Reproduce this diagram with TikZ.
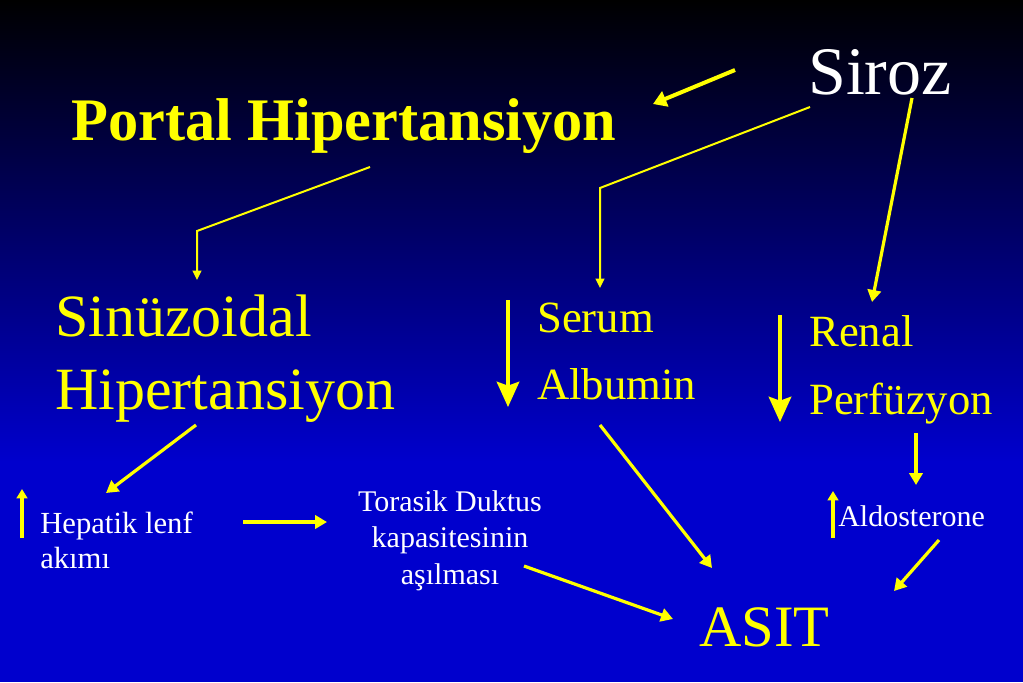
\documentclass[tikz,border=0pt]{standalone}
\usepackage{fontspec}
\setmainfont{Liberation Serif}
\usetikzlibrary{arrows.meta}
\definecolor{ylw}{RGB}{255,255,0}
\definecolor{bgblue}{RGB}{0,0,205}
\begin{document}
\begin{tikzpicture}[x=0.75pt,y=-0.75pt,
  txt/.style={anchor=base west,inner sep=0pt,text=ylw},
  wtxt/.style={anchor=base,inner sep=0pt,text=white},
  arr/.style={draw=ylw,line width=2.4pt,-{Triangle[length=9pt,width=10pt]}},
  thickarr/.style={draw=ylw,line width=3pt,-{Triangle[length=10pt,width=12pt]}},
  thinarr/.style={draw=ylw,line width=1.5pt,-{Triangle[length=7pt,width=6.5pt]}},
  downarr/.style={draw=ylw,line width=2.3pt,-{Stealth[length=19pt,width=17pt,inset=3pt]}},
  uparr/.style={draw=ylw,line width=2.7pt,-{Triangle[length=7pt,width=8pt]}}
]
\useasboundingbox (0,0) rectangle (1023,682);
\shade[top color=black,bottom color=bgblue] (0,0) rectangle (1023,462);
\fill[bgblue] (0,461) rectangle (1023,682);

% nodes
\node[wtxt,anchor=base west,font=\fontsize{51}{60}\selectfont] (siroz) at (808,94) {Siroz};
\node[txt,font=\fontsize{45.3}{54}\selectfont\bfseries] (portal) at (71,140) {Portal Hipertansiyon};
\node[txt,font=\fontsize{45}{54}\selectfont] (sin1) at (55,336) {Sinüzoidal};
\node[txt,font=\fontsize{45}{54}\selectfont] (sin2) at (55,409) {Hipertansiyon};
\node[txt,font=\fontsize{33.5}{40}\selectfont] (ser1) at (537,332) {Serum};
\node[txt,font=\fontsize{33.5}{40}\selectfont] (ser2) at (537,399) {Albumin};
\node[txt,font=\fontsize{33.5}{40}\selectfont] (ren1) at (809,346) {Renal};
\node[txt,font=\fontsize{33.5}{40}\selectfont] (ren2) at (809,414) {Perfüzyon};
\node[txt,font=\fontsize{44}{52}\selectfont] (asit) at (699,646) {ASIT};
\node[wtxt,anchor=base west,font=\fontsize{23}{28}\selectfont] (hep1) at (40,533) {Hepatik lenf};
\node[wtxt,anchor=base west,font=\fontsize{23}{28}\selectfont] (hep2) at (40,568) {akımı};
\node[wtxt,font=\fontsize{22.5}{27}\selectfont] (tor1) at (450,511) {Torasik Duktus};
\node[wtxt,font=\fontsize{22.5}{27}\selectfont] (tor2) at (450,547) {kapasitesinin};
\node[wtxt,font=\fontsize{22.5}{27}\selectfont] (tor3) at (450,584) {aşılması};
\node[wtxt,anchor=base west,font=\fontsize{22.5}{27}\selectfont] (aldo) at (838,526) {Aldosterone};

% connector end points
\coordinate (c1a) at (735,70);   \coordinate (c1b) at (653,104);
\coordinate (c2a) at (810,107);  \coordinate (c2b) at (600,188);  \coordinate (c2c) at (600,288);
\coordinate (c3a) at (912,98);   \coordinate (c3b) at (872,302);
\coordinate (c4a) at (370,167);  \coordinate (c4b) at (197,231);  \coordinate (c4c) at (197,280);
\coordinate (c5a) at (196,425);  \coordinate (c5b) at (106,493);
\coordinate (c6a) at (243,522);  \coordinate (c6b) at (327,522);
\coordinate (c7a) at (524,566);  \coordinate (c7b) at (673,619);
\coordinate (c8a) at (600,425);  \coordinate (c8b) at (712,568);
\coordinate (c9a) at (916,433);  \coordinate (c9b) at (916,485);
\coordinate (c10a) at (939,540); \coordinate (c10b) at (894,591);
\coordinate (d1a) at (508,300);  \coordinate (d1b) at (508,407);
\coordinate (d2a) at (780,315);  \coordinate (d2b) at (780,422);
\coordinate (u1a) at (22,538);   \coordinate (u1b) at (22,489);
\coordinate (u2a) at (833,538);  \coordinate (u2b) at (833,491);

% connectors
\draw[thickarr] (c1a) -- (c1b);
\draw[thinarr] (c2a) -- (c2b) -- (c2c);
\draw[arr] (c3a) -- (c3b);
\draw[thinarr] (c4a) -- (c4b) -- (c4c);
\draw[arr] (c5a) -- (c5b);
\draw[arr] (c6a) -- (c6b);
\draw[arr] (c7a) -- (c7b);
\draw[arr] (c8a) -- (c8b);
\draw[arr] (c9a) -- (c9b);
\draw[arr] (c10a) -- (c10b);
\draw[downarr] (d1a) -- (d1b);
\draw[downarr] (d2a) -- (d2b);
\draw[uparr] (u1a) -- (u1b);
\draw[uparr] (u2a) -- (u2b);
\end{tikzpicture}
\end{document}
